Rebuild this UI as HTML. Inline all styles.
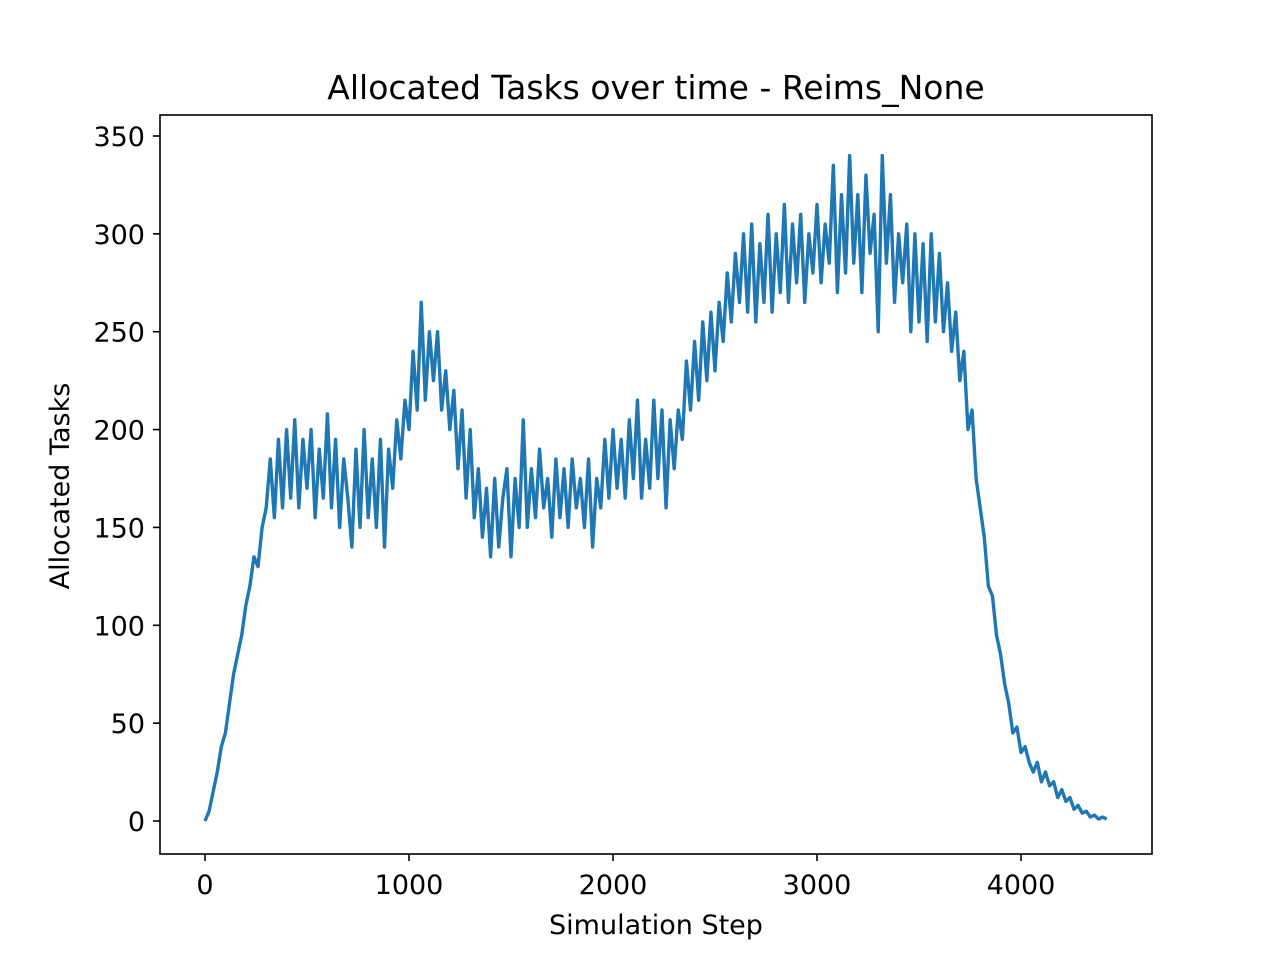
<!DOCTYPE html>
<html><head><meta charset="utf-8"><style>
html,body{margin:0;padding:0;background:#fff;}
svg{display:block;font-family:"DejaVu Sans","Liberation Sans",sans-serif;}
</style></head><body>
<svg id="chart" width="1280" height="960" viewBox="0 0 1280 960">
<rect x="0" y="0" width="1280" height="960" fill="#fff"/>
<text x="656" y="99" text-anchor="middle" font-size="33" fill="#000">Allocated Tasks over time - Reims_None</text>
<g id="plot"></g>
<rect x="160" y="115" width="992" height="739" fill="none" stroke="#000" stroke-width="1.6"/>
<g id="xticks"></g>
<g id="yticks"></g>
<text x="656" y="934" text-anchor="middle" font-size="27" fill="#000">Simulation Step</text>
<text transform="translate(69,486) rotate(-90)" text-anchor="middle" font-size="27" fill="#000">Allocated Tasks</text>
</svg>
<script>
const stepSize = 20;
const values = [0,5,15,25,38,45,60,75,85,95,110,120,135,130,150,160,
185,155,195,160,200,165,205,160,195,170,200,155,190,165,208,160,195,150,185,165,140,190,150,200,155,185,150,195,140,190,
170,205,185,215,200,240,210,265,215,250,225,250,210,230,200,220,180,210,165,200,155,180,
145,170,135,175,140,165,180,135,175,150,205,150,180,155,190,160,175,145,185,155,180,150,185,160,175,150,185,140,175,
160,195,165,200,170,195,165,205,175,215,165,195,170,215,175,210,160,205,180,210,
195,235,210,245,215,255,225,260,230,265,245,280,255,290,265,
300,260,305,255,295,265,310,260,300,270,315,265,305,275,310,265,300,280,315,275,305,285,335,270,320,280,340,285,320,270,330,290,310,250,340,285,320,265,300,275,305,250,300,255,295,
245,300,255,290,250,275,240,260,225,240,
200,210,175,160,145,120,115,95,85,70,60,45,48,35,38,30,25,30,20,25,18,20,12,16,10,12,6,8,4,5,2,3,1,2,1];
const xTickValues = [0,1000,2000,3000,4000];
const yTickValues = [0,50,100,150,200,250,300,350];

const NS = "http://www.w3.org/2000/svg";
const xScale = v => 205 + v * (1021 - 205) / 4000;
const yScale = v => 821 - v * (821 - 136) / 350;

const plot = document.getElementById('plot');
const pts = values.map((v, i) => xScale(i * stepSize).toFixed(2) + ',' + yScale(v).toFixed(2)).join(' ');
const line = document.createElementNS(NS, 'polyline');
line.setAttribute('points', pts);
line.setAttribute('fill', 'none');
line.setAttribute('stroke', '#1f77b4');
line.setAttribute('stroke-width', '3.4');
line.setAttribute('stroke-linejoin', 'round');


plot.appendChild(line);

const xg = document.getElementById('xticks');
xTickValues.forEach(v => {
  const x = xScale(v);
  const t = document.createElementNS(NS, 'line');
  t.setAttribute('x1', x); t.setAttribute('x2', x);
  t.setAttribute('y1', 854); t.setAttribute('y2', 861);
  t.setAttribute('stroke', '#000'); t.setAttribute('stroke-width', '1.6');
  
  
  xg.appendChild(t);
  const l = document.createElementNS(NS, 'text');
  l.setAttribute('x', x); l.setAttribute('y', 894);
  l.setAttribute('text-anchor', 'middle'); l.setAttribute('font-size', '27');
  l.textContent = v;
  
  
  xg.appendChild(l);
});
const yg = document.getElementById('yticks');
yTickValues.forEach(v => {
  const y = yScale(v);
  const t = document.createElementNS(NS, 'line');
  t.setAttribute('x1', 153); t.setAttribute('x2', 160);
  t.setAttribute('y1', y); t.setAttribute('y2', y);
  t.setAttribute('stroke', '#000'); t.setAttribute('stroke-width', '1.6');
  
  
  yg.appendChild(t);
  const l = document.createElementNS(NS, 'text');
  l.setAttribute('x', 145); l.setAttribute('y', y + 10);
  l.setAttribute('text-anchor', 'end'); l.setAttribute('font-size', '27');
  l.textContent = v;
  
  
  yg.appendChild(l);
});
</script>
</body></html>
